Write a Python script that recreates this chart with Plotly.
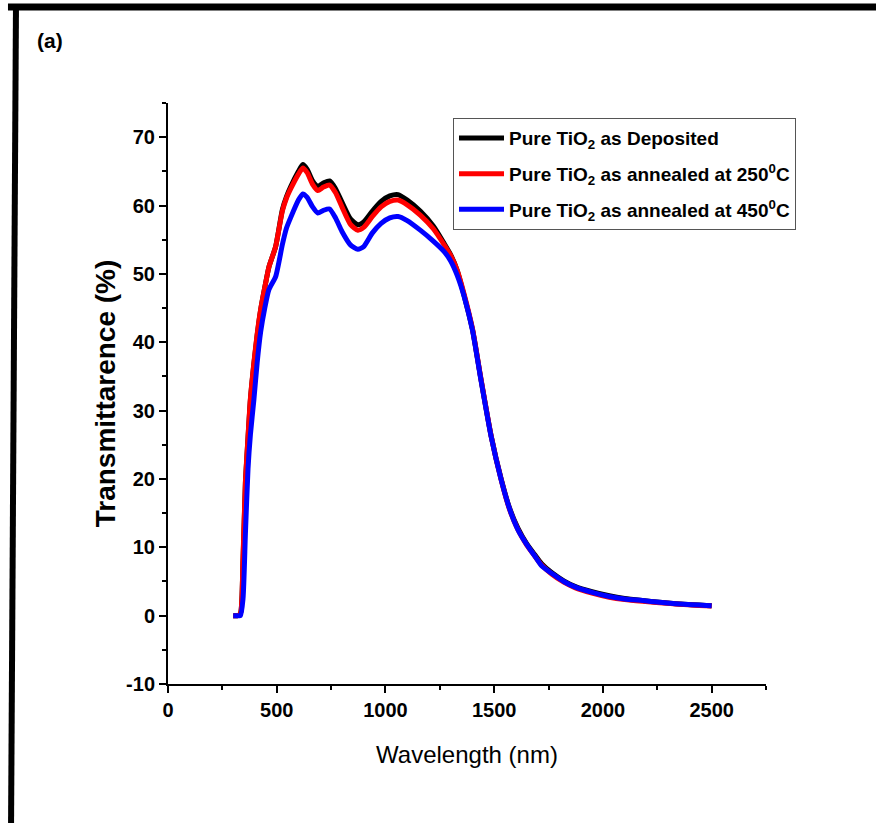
import plotly.graph_objects as go

wavelength = [300, 320, 333, 345, 356, 368, 379, 395, 410, 426,
              445, 464, 495, 526, 545, 565, 600, 620, 640, 665,
              689, 715, 743, 770, 800, 840, 873, 900, 940, 980,
              1020, 1058, 1100, 1160, 1220, 1269, 1300, 1330, 1362, 1400,
              1439, 1486, 1532, 1570, 1609, 1650, 1687, 1718, 1764, 1820,
              1871, 1950, 2029, 2100, 2182, 2260, 2335, 2410, 2475, 2500]

as_deposited = [0, 0, 0.3, 8, 19.4, 26, 31.6, 36.8, 41, 44.7,
                48, 51, 54, 59.4, 61.3, 62.8, 65, 66, 65.3, 63.6,
                62.8, 63.3, 63.6, 62.5, 60.5, 58, 57.2, 57.6, 59.2, 60.6,
                61.4, 61.6, 60.8, 59.2, 57, 54.5, 52.8, 50.5, 46.8, 41.9,
                34.6, 26.3, 20, 15.8, 12.8, 10.5, 8.9, 7.6, 6.3, 5.1,
                4.3, 3.5, 2.9, 2.5, 2.2, 1.95, 1.75, 1.6, 1.5, 1.45]

annealed_250 = [0, 0, 0.3, 8.5, 19.6, 26.2, 31.8, 37, 41.2, 44.8,
                48, 51, 54, 59.2, 61.1, 62.5, 64.6, 65.5, 64.8, 63.1,
                62.2, 62.7, 63, 61.9, 59.8, 57.2, 56.4, 56.8, 58.4, 59.8,
                60.6, 60.8, 60.1, 58.6, 56.6, 54.3, 52.7, 50.5, 47, 42,
                34.7, 26.3, 19.9, 15.6, 12.6, 10.3, 8.7, 7.4, 6.1, 4.9,
                4.1, 3.3, 2.7, 2.35, 2.1, 1.9, 1.7, 1.55, 1.45, 1.4]

annealed_450 = [0, 0, 0, 2.5, 12, 21.5, 26.5, 31.6, 37, 41.5,
                45, 47.7, 49.6, 54.3, 56.7, 58.3, 60.8, 61.7, 61.2, 59.8,
                58.9, 59.3, 59.5, 58.2, 56.2, 54.2, 53.6, 54, 56, 57.4,
                58.2, 58.4, 57.8, 56.4, 54.8, 53.3, 51.9, 49.8, 46.7, 41.8,
                34.5, 26.2, 19.9, 15.7, 12.6, 10.4, 8.7, 7.3, 6.2, 5,
                4.2, 3.4, 2.8, 2.45, 2.2, 1.95, 1.75, 1.6, 1.5, 1.45]

series_names = ["Pure TiO<sub>2</sub> as Deposited",
                "Pure TiO<sub>2</sub> as annealed at 250<sup>0</sup>C",
                "Pure TiO<sub>2</sub> as annealed at 450<sup>0</sup>C"]
series_values = [as_deposited, annealed_250, annealed_450]
series_colors = ["#000000", "#ff0000", "#0000ff"]

x_ticks = [0, 500, 1000, 1500, 2000, 2500]
y_ticks = [-10, 0, 10, 20, 30, 40, 50, 60, 70]

FONT = "Liberation Sans, Arial, Helvetica, sans-serif"

fig = go.Figure()
for i, (name, vals, col) in enumerate(zip(series_names, series_values, series_colors)):
    fig.add_trace(go.Scatter(
        x=wavelength, y=vals, mode="lines", name=name,
        line=dict(color=col, width=5, shape="spline", smoothing=0.6),
        legendgroup=f"g{i}",
    ))

axis_common = dict(
    showline=True, linecolor="black", linewidth=2,
    ticks="outside", ticklen=7, tickwidth=2, tickcolor="black",
    showgrid=False, zeroline=False, mirror=False,
    tickfont=dict(family=FONT, size=20, color="black", weight="bold"),
)

fig.update_xaxes(
    range=[0, 2750], tickvals=x_ticks, ticktext=[str(v) for v in x_ticks],
    minor=dict(ticks="outside", ticklen=4, tickwidth=2, tickcolor="black", dtick=250, tick0=0),
    title=dict(text="Wavelength (nm)", font=dict(family=FONT, size=24, color="black"), standoff=26),
    **axis_common,
)
fig.update_yaxes(
    range=[-10, 75], tickvals=y_ticks, ticktext=[str(v) for v in y_ticks],
    minor=dict(ticks="outside", ticklen=4, tickwidth=2, tickcolor="black", dtick=5, tick0=0),
    title=dict(text="Transmittarence (%)", font=dict(family=FONT, size=28, color="black", weight="bold"), standoff=2),
    **axis_common,
)

fig.update_layout(
    width=876, height=823,
    margin=dict(l=168, r=110, t=103, b=139),
    paper_bgcolor="white", plot_bgcolor="white",
    legend=dict(
        x=0.4766, y=0.974, xanchor="left", yanchor="top",
        bordercolor="#555555", borderwidth=1, bgcolor="white",
        font=dict(family=FONT, size=19, color="black", weight="bold"),
        tracegroupgap=8, itemwidth=45,
    ),
    annotations=[dict(
        text="<b>(a)</b>", xref="paper", yref="paper",
        x=-0.1973, y=1.1084, xanchor="center", yanchor="middle", showarrow=False,
        font=dict(family=FONT, size=21, color="black"),
    )],
    shapes=[
        dict(type="line", xref="paper", yref="paper", x0=-0.2676, x1=1.2, y0=1.1652, y1=1.1652,
             line=dict(color="black", width=7)),
        dict(type="line", xref="paper", yref="paper", x0=-0.2542, x1=-0.2625, y0=1.1704, y1=-0.25,
             line=dict(color="black", width=6)),
    ],
)

fig.write_html("out.html", config={"displayModeBar": False},
               post_script="document.body.style.margin='0';")
